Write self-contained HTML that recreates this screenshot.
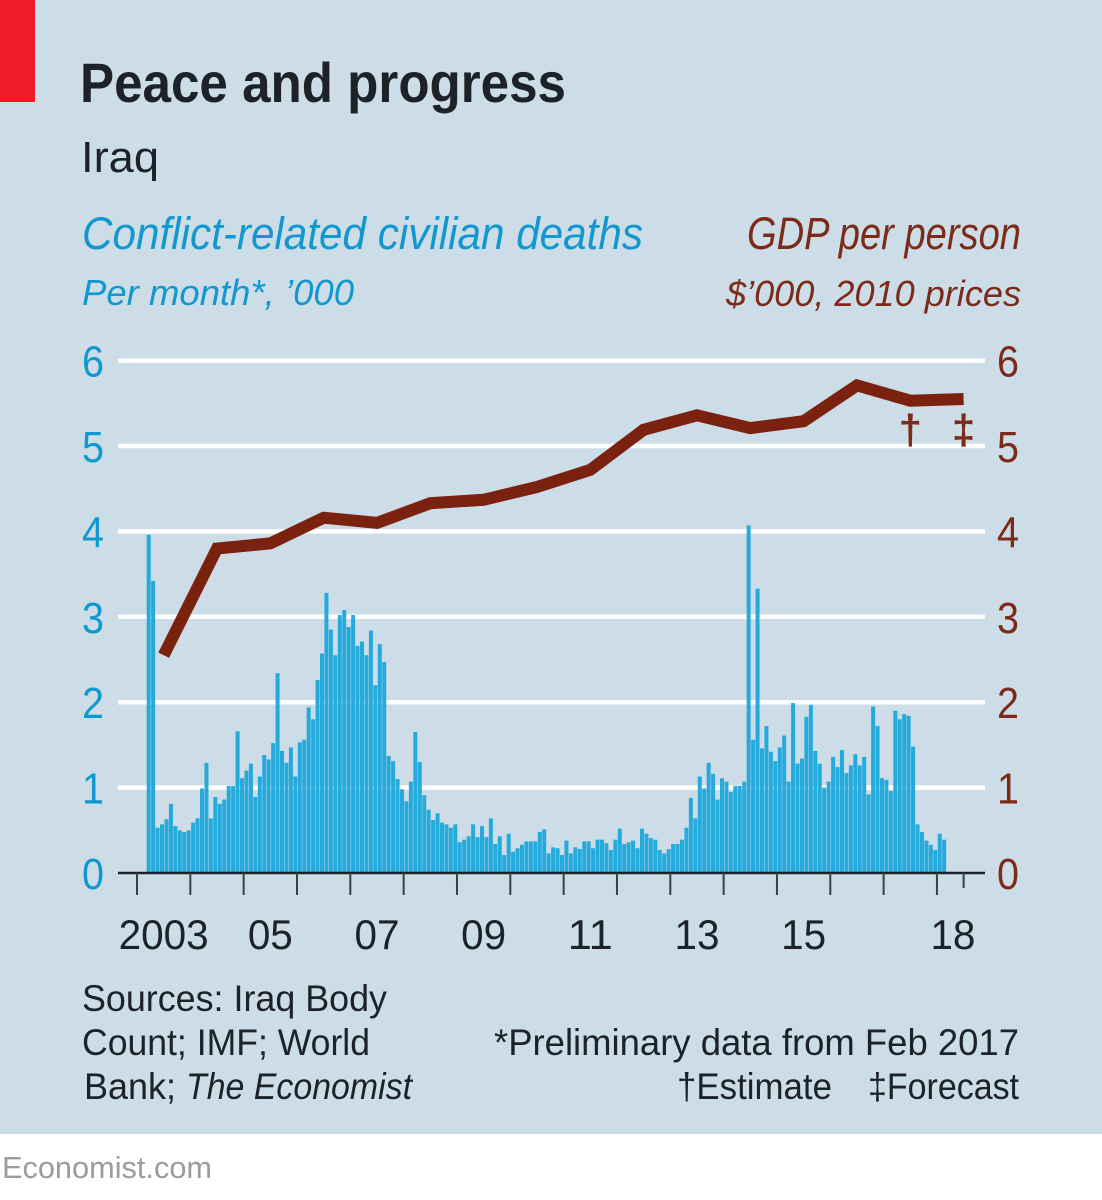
<!DOCTYPE html>
<html lang="en">
<head>
<meta charset="utf-8">
<title>Peace and progress</title>
<style>
html,body{margin:0;padding:0;background:#fff;width:1102px;height:1200px;overflow:hidden}
svg{display:block}
text{font-family:"Liberation Sans Narrow","Liberation Sans",sans-serif}
.dark{fill:#1c2228}
.blue{fill:#1098cf}
.brown{fill:#7c2a1a}
.foot{font-size:37px;fill:#1c2228}
</style>
</head>
<body>
<svg id="chart" xmlns="http://www.w3.org/2000/svg" width="1102" height="1200" viewBox="0 0 1102 1200">
  <rect x="0" y="0" width="1102" height="1134" fill="#cddde7"/>
  <rect x="0" y="0" width="35" height="102" fill="#ed1c28"/>
  <text class="dark" x="80" y="102" font-size="56" font-weight="700" textLength="486" lengthAdjust="spacingAndGlyphs">Peace and progress</text>
  <text class="dark" x="81" y="172" font-size="44" textLength="78" lengthAdjust="spacingAndGlyphs">Iraq</text>
  <text class="blue" x="82" y="249" font-size="45" font-style="italic" textLength="561" lengthAdjust="spacingAndGlyphs">Conflict-related civilian deaths</text>
  <text class="blue" x="82" y="305" font-size="36" font-style="italic" textLength="272" lengthAdjust="spacingAndGlyphs">Per month*, ’000</text>
  <text class="brown" x="747" y="249" font-size="45" font-style="italic" textLength="274" lengthAdjust="spacingAndGlyphs">GDP per person</text>
  <text class="brown" x="726" y="306" font-size="36" font-style="italic" textLength="295" lengthAdjust="spacingAndGlyphs">$’000, 2010 prices</text>

  <g id="grid"></g>
  <g id="bars"></g>
  <g id="axis"></g>
  <g id="yLabels"></g>
  <polyline id="gdpLine" fill="none" stroke="#7b2110" stroke-width="12" stroke-linejoin="miter" stroke-linecap="butt"/>

  <text id="dagger" class="brown" y="444" font-size="42" font-weight="700" text-anchor="middle">†</text>
  <text id="ddagger" class="brown" y="444" font-size="42" font-weight="700" text-anchor="middle">‡</text>

  <text class="foot" x="82" y="1011" textLength="305" lengthAdjust="spacingAndGlyphs">Sources: Iraq Body</text>
  <text class="foot" x="82" y="1055" textLength="288" lengthAdjust="spacingAndGlyphs">Count; IMF; World</text>
  <text class="foot" x="84" y="1099" textLength="92" lengthAdjust="spacingAndGlyphs">Bank;</text>
  <text class="foot" x="186" y="1099" font-style="italic" textLength="226" lengthAdjust="spacingAndGlyphs">The Economist</text>
  <text class="foot" x="494" y="1055" textLength="525" lengthAdjust="spacingAndGlyphs">*Preliminary data from Feb 2017</text>
  <text class="foot" x="677" y="1099" textLength="155" lengthAdjust="spacingAndGlyphs">†Estimate</text>
  <text class="foot" x="868" y="1099" textLength="151" lengthAdjust="spacingAndGlyphs">‡Forecast</text>
  <text x="2" y="1178" font-size="31" fill="#9a9c9e" textLength="210" lengthAdjust="spacingAndGlyphs">Economist.com</text>
</svg>
<script>
const deaths = [
3.96,3.42,.53,.57,.63,.81,.55,.50,.48,.50,.59,.64,.99,1.29,.64,.89,.81,.86,1.02,1.02,
1.66,1.11,1.20,1.28,.89,1.13,1.38,1.33,1.52,2.34,1.43,1.29,1.47,1.13,1.53,1.56,1.94,1.80,2.26,2.57,
3.28,2.85,2.55,3.02,3.08,2.88,3.02,2.66,2.71,2.55,2.84,2.20,2.68,2.47,1.37,1.31,1.10,.98,.84,1.07,
1.65,1.30,.91,.74,.62,.70,.59,.57,.53,.57,.36,.39,.43,.57,.42,.55,.42,.64,.34,.43,
.21,.46,.25,.29,.33,.37,.37,.37,.48,.51,.23,.30,.29,.21,.38,.23,.30,.28,.37,.37,
.29,.39,.39,.35,.27,.39,.52,.34,.36,.38,.29,.52,.46,.41,.39,.27,.23,.28,.34,.34,
.39,.53,.88,.64,1.13,.99,1.29,1.16,.86,1.11,1.07,.95,1.02,1.02,1.07,4.07,1.56,3.33,1.46,1.72,
1.42,1.31,1.47,1.61,1.07,1.99,1.28,1.34,1.83,1.97,1.43,1.28,1.00,1.07,1.36,1.24,1.44,1.17,1.26,1.39,
1.26,1.36,.92,1.95,1.72,1.11,1.09,.96,1.90,1.80,1.86,1.84,1.48,.57,.48,.38,.33,.27,.46,.39
];
const gdpYears = [2003,2004,2005,2006,2007,2008,2009,2010,2011,2012,2013,2014,2015,2016,2017,2018];
const gdpValues = [2.55,3.80,3.86,4.16,4.10,4.33,4.37,4.52,4.72,5.19,5.36,5.21,5.29,5.71,5.53,5.55];
const yTicks = [0,1,2,3,4,5,6];
const xTickYears = [2003,2004,2005,2006,2007,2008,2009,2010,2011,2012,2013,2014,2015,2016,2017,2018];
const xLabels = ["2003","05","07","09","11","13","15","18"];
const xLabelYears = [2003.5,2005.5,2007.5,2009.5,2011.5,2013.5,2015.5,2018.3];
const seriesStart = 2003 + 2 / 12;
const estimateYear = 2017;
const forecastYear = 2018;

const NS = "http://www.w3.org/2000/svg";
const xOf = t => 137 + (t - 2003) * 53.33;
const yOf = v => 873 - v * 85.4;
const make = (tag, parent) => { const el = document.createElementNS(NS, tag); parent.appendChild(el); return el; };

const grid = document.getElementById("grid");
yTicks.forEach(v => {
  if (v === 0) return;
  const l = make("line", grid);
  
  
  l.setAttribute("x1", 118); l.setAttribute("x2", 985);
  l.setAttribute("y1", yOf(v)); l.setAttribute("y2", yOf(v));
  l.setAttribute("stroke", "#ffffff"); l.setAttribute("stroke-width", 4.5);
});

const bars = document.getElementById("bars");
deaths.forEach((d, i) => {
  const r = make("rect", bars);
  
  
  const x = xOf(seriesStart + i / 12) + 0.8;
  r.setAttribute("x", x.toFixed(2));
  r.setAttribute("width", 4);
  r.setAttribute("y", yOf(d).toFixed(2));
  r.setAttribute("height", (yOf(0) - yOf(d)).toFixed(2));
  r.setAttribute("fill", "#1ea8dc");
  r.setAttribute("fill-opacity", "0.96");
});

const axis = document.getElementById("axis");
const base = make("line", axis);


base.setAttribute("x1", 118); base.setAttribute("x2", 985);
base.setAttribute("y1", 873); base.setAttribute("y2", 873);
base.setAttribute("stroke", "#1c2228"); base.setAttribute("stroke-width", 2.5);
xTickYears.forEach(t => {
  const l = make("line", axis);
  
  
  l.setAttribute("x1", xOf(t)); l.setAttribute("x2", xOf(t));
  l.setAttribute("y1", 873); l.setAttribute("y2", 895);
  l.setAttribute("stroke", "#3a4046"); l.setAttribute("stroke-width", 2);
});
const endTick = make("line", axis);


endTick.setAttribute("x1", xOf(2018.5)); endTick.setAttribute("x2", xOf(2018.5));
endTick.setAttribute("y1", 873); endTick.setAttribute("y2", 888);
endTick.setAttribute("stroke", "#3a4046"); endTick.setAttribute("stroke-width", 2);
xLabels.forEach((s, i) => {
  const t = make("text", axis);
  
  
  t.setAttribute("x", xOf(xLabelYears[i]));
  t.setAttribute("y", 949);
  t.setAttribute("text-anchor", "middle");
  t.setAttribute("font-size", 42);
  t.setAttribute("class", "dark");
  t.setAttribute("textLength", s.length * 22.5);
  t.setAttribute("lengthAdjust", "spacingAndGlyphs");
  t.textContent = s;
});

const yLabels = document.getElementById("yLabels");
yTicks.forEach(v => {
  const a = make("text", yLabels);
  
  
  a.setAttribute("x", 82); a.setAttribute("y", yOf(v) + 16);
  a.setAttribute("font-size", 44); a.setAttribute("class", "blue");
  a.setAttribute("textLength", 22); a.setAttribute("lengthAdjust", "spacingAndGlyphs");
  a.textContent = v;
  const b = make("text", yLabels);
  
  
  b.setAttribute("x", 997); b.setAttribute("y", yOf(v) + 16);
  b.setAttribute("font-size", 44); b.setAttribute("class", "brown");
  b.setAttribute("textLength", 22); b.setAttribute("lengthAdjust", "spacingAndGlyphs");
  b.textContent = v;
});

document.getElementById("gdpLine").setAttribute("points",
  gdpValues.map((v, i) => xOf(gdpYears[i] + 0.5).toFixed(1) + "," + yOf(v).toFixed(1)).join(" "));
document.getElementById("dagger").setAttribute("x", xOf(estimateYear + 0.5));
document.getElementById("ddagger").setAttribute("x", xOf(forecastYear + 0.5));
</script>
</body>
</html>
